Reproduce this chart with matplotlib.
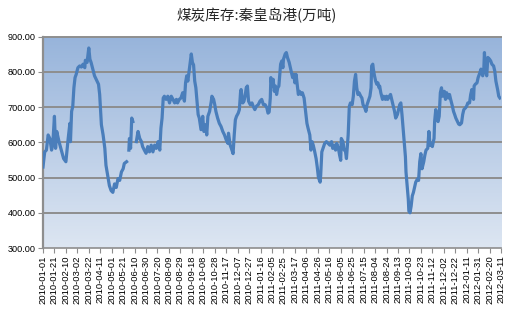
import numpy as np
import pandas as pd
import matplotlib
matplotlib.use("Agg")
import matplotlib.pyplot as plt
import matplotlib.dates as mdates
from matplotlib.colors import LinearSegmentedColormap

title = "煤炭库存:秦皇岛港(万吨)"
start_date = "2010-01-01"
end_date = "2012-03-11"
tick_step_days = 20
y_ticks = [300, 400, 500, 600, 700, 800, 900]

# days since 2010-01-01 ; None marks a gap in the series
day_offset = [0, 3, 6, 9, 12, 15, 17, 20, 22, 24, 28, 32, 36, 40, 44, 47, 48, 50, 52, 54,
              56, 58, 61, 64, 67, 70, 73, 74, 77, 80, 82, 84, 87, 90, 93, 97, 99, 102, 105, 108,
              110, 113, 116, 119, 122, 125, 128, 131, 134, 137, 140, 142, 146, 148,
              150, 151, 153, 155, 157, 160,
              163, 166, 169, 172, 174, 177, 180, 183, 186, 189, 192, 195, 198, 201, 204, 206, 208, 210, 212, 215,
              218, 221, 224, 227, 230, 233, 235, 238, 241, 244, 247, 249, 251, 253, 256, 259, 261, 263, 265, 267,
              269, 271, 273, 276, 279, 281, 284, 286, 288, 291, 294, 295, 298, 300, 302, 305, 308, 311, 314, 317,
              320, 323, 324, 327, 329, 332, 334, 336, 338, 341, 343, 345, 346, 349, 351, 353, 355, 357, 359, 362,
              365, 367, 370, 373, 376, 379, 382, 385, 388, 391, 393, 395, 397, 398, 400, 402, 404, 406, 408, 410,
              412, 415, 417, 419, 420, 423, 425, 427, 430, 432, 434, 436, 438, 440, 442, 444, 446, 448, 451, 453,
              456, 459, 461, 463, 466, 468, 470, 472, 474, 477, 479, 481, 484, 485, 487, 490, 492, 495, 498, 501,
              504, 506, 509, 511, 513, 516, 518, 520, 521, 524, 526, 528, 530, 533, 535, 537, 540, 542, 544, 546,
              548, 550, 552, 555, 557, 559, 562, 564, 566, 569, 571, 573, 574, 576, 577, 579, 581, 583, 585, 587,
              588, 590, 593, 595, 598, 600, 602, 605, 607, 609, 612, 614, 616, 619, 621, 623, 625, 627, 629, 631,
              633, 634, 636, 638, 639, 641, 643, 645, 647, 649, 651, 654, 656, 658, 660, 662, 665, 667, 669, 672,
              674, 676, 678, 680, 683, 684, 686, 688, 690, 692, 694, 696, 698, 701, 703, 705, 708, 710, 712, 715,
              717, 719, 721, 724, 726, 728, 731, 733, 735, 738, 740, 742, 745, 747, 749, 752, 753, 755, 758, 760,
              762, 765, 766, 768, 770, 771, 773, 775, 777, 780, 782, 784, 787, 789, 791, 794, 796, 798]
stock = [530, 573, 578, 621, 611, 578, 592, 674, 583, 631, 602, 578, 554, 545, 611, 654, 602, 688, 702, 755,
         784, 793, 812, 817, 814, 822, 812, 833, 827, 868, 836, 827, 808, 789, 779, 765, 736, 650, 621, 583,
         535, 506, 477, 463, 458, 482, 472, 497, 492, 516, 525, 540, 545, None,
         578, 611, 583, 669, 659, None,
         602, 631, 611, 602, 588, 578, 569, 588, 573, 592, 573, 592, 583, 602, 578, 640, 669, 726, 731, 722,
         731, 712, 731, 722, 712, 722, 712, 722, 726, 741, 717, 769, 789, 774, 812, 851, 827, 820, 774, 755,
         717, 679, 669, 636, 674, 631, 650, 621, 674, 688, 717, 731, 722, 707, 688, 669, 654, 645, 631, 621,
         607, 597, 626, 592, 583, 568, 621, 664, 674, 683, 693, 741, 750, 712, 717, 731, 755, 760, 717, 707,
         712, 703, 693, 703, 707, 717, 722, 707, 707, 698, 683, 686, 726, 784, 760, 779, 745, 760, 736, 755,
         760, 822, 831, 812, 836, 851, 855, 841, 827, 812, 798, 784, 793, 769, 793, 765, 736, 745, 736, 741,
         726, 683, 654, 640, 621, 578, 602, 592, 578, 554, 530, 501, 487, 506, 573, 588, 597, 602, 597, 592,
         602, 583, 592, 578, 597, 583, 564, 549, 611, 602, 578, 578, 554, 621, 702, 712, 707, 731, 774, 793,
         755, 736, 741, 731, 726, 707, 698, 688, 707, 722, 731, 755, 817, 822, 808, 789, 774, 765, 769, 755,
         760, 741, 722, 731, 722, 731, 722, 731, 736, 722, 702, 688, 669, 679, 693, 707, 712, 679, 640, 602,
         559, 516, 477, 439, 405, 400, 419, 448, 458, 472, 487, 496, 492, 545, 568, 525, 545, 564, 578, 583,
         631, 592, 597, 588, 611, 659, 693, 669, 659, 674, 741, 755, 731, 745, 722, 741, 726, 736, 722, 703,
         688, 679, 669, 659, 652, 650, 655, 679, 693, 698, 703, 712, 712, 736, 750, 722, 760, 765, 769, 784,
         793, 808, 798, 789, 812, 855, 803, 789, 841, 836, 831, 822, 817, 803, 774, 750, 731, 726]

plt.rcParams['font.family'] = ['Liberation Sans', 'DejaVu Sans']

dates = pd.Timestamp(start_date) + pd.to_timedelta(day_offset, unit="D")
values = np.array([np.nan if v is None else v for v in stock], dtype=float)

fig = plt.figure(figsize=(5.32, 3.35), dpi=100)
ax = fig.add_axes([0.0808, 0.2597, 0.861, 0.6307])

x0 = mdates.date2num(pd.Timestamp(start_date))
x1 = mdates.date2num(pd.Timestamp(end_date))
ax.set_xlim(x0, x1)
ax.set_ylim(300, 900)

cmap = LinearSegmentedColormap.from_list("bg", ["#dde6f2", "#97b4db"])
grad = np.linspace(0, 1, 256).reshape(-1, 1)
ax.imshow(grad, cmap=cmap, aspect="auto", origin="lower",
          extent=[x0, x1, 300, 900], zorder=0)

for yv in y_ticks[1:]:
    ax.axhline(yv, color="#8e8e8e", lw=1.4, zorder=1, clip_on=False)

ax.plot(dates, values, color="#4a7ebb", lw=2.3, zorder=3, solid_joinstyle="round")

ticks = pd.date_range(start_date, end_date, freq=f"{tick_step_days}D")
ax.set_xticks(mdates.date2num(ticks))
ax.set_xticklabels([t.strftime("%Y-%m-%d") for t in ticks], rotation=90, fontsize=6.8)
ax.set_yticks(y_ticks)
ax.set_yticklabels([f"{v:.2f}" for v in y_ticks], fontsize=6.6)

for s in ["top", "right"]:
    ax.spines[s].set_visible(False)
ax.spines["left"].set_color("#8e8e8e")
ax.spines["left"].set_linewidth(1.6)
ax.spines["bottom"].set_color("#8e8e8e")
ax.spines["bottom"].set_linewidth(1.2)
ax.tick_params(axis="both", direction="out", length=3.5, width=0.8, color="#8e8e8e", pad=2)

fig.text(0.482, 0.955, title, ha="center", va="center", fontsize=10.5,
         family=["Noto Sans CJK SC", "DejaVu Sans"], color="#262626")

fig.savefig("out.png", dpi=100)
